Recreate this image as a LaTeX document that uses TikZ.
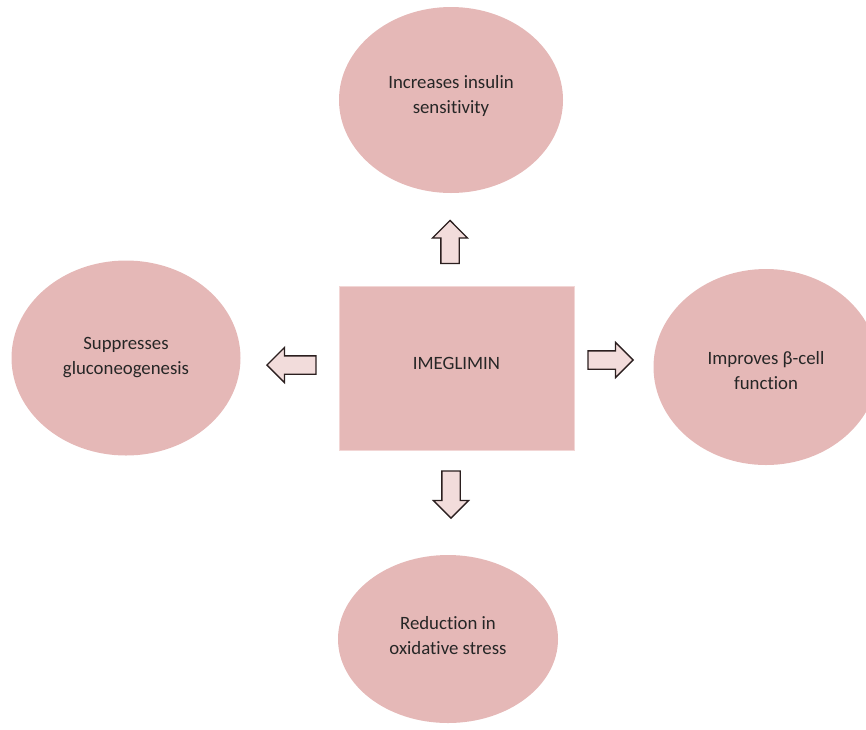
\documentclass[tikz,border=0pt]{standalone}
\usepackage{fontspec}
\setmainfont{Carlito}[Ligatures=NoCommon]
\usetikzlibrary{shapes.geometric,shapes.arrows}
\definecolor{bubblefill}{HTML}{E5B8B7}
\definecolor{boxline}{HTML}{F2D6D5}
\definecolor{arrowfill}{HTML}{F2DCDB}
\definecolor{arrowline}{HTML}{2B1F1F}
\definecolor{txt}{HTML}{262626}
\tikzset{
  bubbletext/.style={text=txt,align=center,inner sep=0pt,font=\fontsize{18.8}{25}\selectfont},
  bubble/.style={ellipse,fill=bubblefill,inner sep=0pt},
  drugbox/.style={rectangle,fill=bubblefill,draw=boxline,line width=1pt},
  blockarrow/.style={single arrow,draw=arrowline,fill=arrowfill,line width=1.3pt,inner sep=8.5pt,single arrow head extend=8.5pt,single arrow tip angle=90,anchor=tip}
}
\begin{document}
\begin{tikzpicture}[x=1pt,y=-1pt]
    \useasboundingbox(0,0)rectangle(866,729);
    \clip(0,0)rectangle(866,729);

    \node[drugbox,minimum width=235pt,minimum height=164pt,label={[bubbletext,yshift=5pt]center:IMEGLIMIN}](imeg)at(456.5,368){};

    \node[bubble,minimum width=224pt,minimum height=186pt,label={[bubbletext,yshift=4pt]center:Increases insulin\\sensitivity}](insulin)at(451,100){};
    \node[bubble,minimum width=229pt,minimum height=195pt,label={[bubbletext]center:Suppresses\\gluconeogenesis}](gluco)at(126,358){};
    \node[bubble,minimum width=225pt,minimum height=196pt,label={[bubbletext,yshift=-3.5pt]center:Improves β-cell\\function}](betacell)at(766,367){};
    \node[bubble,minimum width=220pt,minimum height=168pt,label={[bubbletext,yshift=3pt]center:Reduction in\\oxidative stress}](oxstress)at(448,639){};

    \node[blockarrow,rotate=90,minimum height=43pt](arrup)at(450,219.5){};
    \node[blockarrow,rotate=180,minimum height=49pt](arrleft)at(266,365){};
    \node[blockarrow,minimum height=45pt](arrright)at(634,360){};
    \node[blockarrow,rotate=-90,minimum height=47pt](arrdown)at(451,519){};
\end{tikzpicture}
\end{document}
